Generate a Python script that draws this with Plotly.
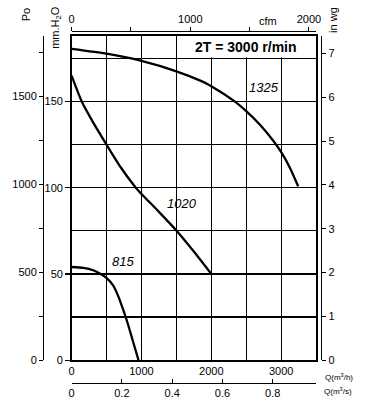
import plotly.graph_objects as go

# ---- data (Q in m3/h, pressure in mm H2O) ----
q_1325 = [0, 500, 1000, 1500, 1860, 2000, 2330, 2500, 2700, 2890, 3010, 3130, 3244]
p_1325 = [180.5, 177.7, 173.5, 167.5, 161.8, 158.9, 150.2, 144.4, 136.4, 127.1, 120, 111.2, 100.8]

q_1020 = [0, 145, 300, 500, 700, 920, 1000, 1250, 1500, 1750, 2000]
p_1020 = [165, 150, 138.5, 125, 112, 100, 96.4, 86, 75.2, 63, 50]

q_815 = [0, 169, 310, 404, 498, 592, 662, 732, 803, 873, 958]
p_815 = [54, 53.5, 52.1, 50.2, 47.7, 43.5, 37.7, 30, 21.4, 11.7, 0]

curve_names = ["1325", "1020", "815"]
label_q = [2751, 1577, 732]
label_p = [158, 90.6, 57]

q_ticks = [0, 1000, 2000, 3000]
q_grid = [500, 1500, 2500]
mm_ticks = [0, 50, 100, 150]
mm_grid = [25, 75, 125, 175]
pa_ticks = [0, 500, 1000, 1500]
pa_minor = [250, 750, 1250, 1750]
cfm_ticks = [0, 1000, 2000]
cfm_minor = [500, 1500]
m3s_ticks = [0, 0.2, 0.4, 0.6, 0.8]
m3s_text = ["0", "0.2", "0.4", "0.6", "0.8"]
inwg_ticks = [0, 1, 2, 3, 4, 5, 6, 7]

Q_MAX = 3500
P_MAX = 188

W, H = 374, 411
L, R, T, B = 39, 53, 31, 26
PW, PH = W - L - R, H - T - B


def px(x):
    return (x - L) / PW


def py(y):
    return (H - B - y) / PH


FONT = "Liberation Sans"
fig = go.Figure()

for q, p in [(q_1325, p_1325), (q_1020, p_1020), (q_815, p_815)]:
    fig.add_trace(go.Scatter(x=q, y=p, mode="lines",
                             line=dict(color="black", width=2.3, shape="spline", smoothing=0.6),
                             xaxis="x", yaxis="y", showlegend=False, hoverinfo="skip"))

# invisible helpers so that the secondary axes are drawn
for xa, ya in [("x2", "y"), ("x3", "y"), ("x", "y2"), ("x", "y3")]:
    fig.add_trace(go.Scatter(x=[0], y=[0], mode="markers", marker=dict(opacity=0),
                             xaxis=xa, yaxis=ya, showlegend=False, hoverinfo="skip"))

xdom = [px(68), px(316)]
ydom = [py(362), py(36)]
tf = dict(family=FONT, size=11, color="black")

fig.update_layout(
    width=W, height=H, autosize=False,
    margin=dict(l=L, r=R, t=T, b=B, pad=0),
    paper_bgcolor="white", plot_bgcolor="white",
    font=dict(family=FONT, color="black"),
    showlegend=False,
    xaxis=dict(domain=xdom, range=[0, Q_MAX], anchor="y",
               tickvals=q_ticks, ticks="", showline=True, mirror=True,
               linecolor="black", linewidth=1.5, showgrid=True, gridcolor="black", gridwidth=1.2,
               zeroline=False, tickfont=tf,
               minor=dict(tickvals=q_grid, showgrid=True, gridcolor="black", gridwidth=1.2, ticks="")),
    yaxis=dict(domain=ydom, range=[0, P_MAX], anchor="x",
               tickvals=mm_ticks, ticks="outside", ticklen=5, tickwidth=1.2, tickcolor="black",
               showline=True, mirror=True, linecolor="black", linewidth=1.5,
               showgrid=True, gridcolor="black", gridwidth=1.2, zeroline=False, tickfont=tf,
               minor=dict(tickvals=mm_grid, showgrid=True, gridcolor="black", gridwidth=1.2, ticks="")),
    yaxis2=dict(overlaying="y", anchor="free", position=0, side="left", domain=ydom,
                range=[0, P_MAX * 9.80665], tickvals=pa_ticks, ticks="outside", ticklen=4,
                tickwidth=1, tickcolor="black", showline=True, linecolor="black", linewidth=1.2,
                showgrid=False, zeroline=False, tickfont=tf,
                minor=dict(tickvals=pa_minor, ticks="outside", ticklen=4, tickcolor="black", showgrid=False)),
    yaxis3=dict(overlaying="y", anchor="free", position=1, side="right", domain=ydom,
                range=[0, P_MAX / 25.4], tickvals=inwg_ticks, ticks="outside", ticklen=4,
                tickwidth=1, tickcolor="black", showline=True, linecolor="black", linewidth=1.2,
                showgrid=False, zeroline=False, tickfont=tf),
    xaxis2=dict(overlaying="x", anchor="free", position=1, side="top", domain=xdom,
                range=[0, Q_MAX / 1.699], tickvals=cfm_ticks,
                ticks="outside", ticklen=4, tickwidth=1, tickcolor="black",
                showline=True, linecolor="black", linewidth=1.2, showgrid=False, zeroline=False,
                tickfont=tf,
                minor=dict(tickvals=cfm_minor, ticks="outside", ticklen=4, tickcolor="black", showgrid=False)),
    xaxis3=dict(overlaying="x", anchor="free", position=0, side="bottom", domain=xdom,
                range=[0, Q_MAX / 3600], tickvals=m3s_ticks, ticktext=m3s_text,
                ticks="inside", ticklen=4, tickwidth=1, tickcolor="black",
                showline=True, linecolor="black", linewidth=1.2, showgrid=False, zeroline=False,
                tickfont=tf),
)

# white box for the title inside the plot
fig.add_shape(type="rect", xref="x", yref="y", x0=1512, x1=Q_MAX, y0=175.6, y1=P_MAX,
              fillcolor="white", line=dict(width=0), layer="between")


def note(text, x, y, size=11, angle=0, xref="paper", yref="paper"):
    return dict(text=text, x=x, y=y, xref=xref, yref=yref, textangle=angle,
                xanchor="center", yanchor="middle", showarrow=False,
                font=dict(family=FONT, size=size, color="black"))


ann = [
    note("<b>2T = 3000 r/min</b>", px(245), py(47.5), size=14),
    note("Po", px(22), py(15), angle=-90),
    note("mm.H<sub>2</sub>O", px(52), py(27), angle=-90),
    note("in wg", px(333), py(20), angle=-90),
    note("cfm", px(267), py(21)),
    note("Q(m<sup>3</sup>/h)", px(339), py(379), size=8),
    note("Q(m<sup>3</sup>/s)", px(338), py(393), size=8),
]
for name, lq, lp in zip(curve_names, label_q, label_p):
    ann.append(note("<i>" + name + "</i>", lq, lp, size=13, xref="x", yref="y"))
fig.update_layout(annotations=ann)

fig.write_html("out.html",
               config={"displayModeBar": False, "staticPlot": True},
               post_script="document.body.style.margin='0';document.body.style.overflow='hidden';")
